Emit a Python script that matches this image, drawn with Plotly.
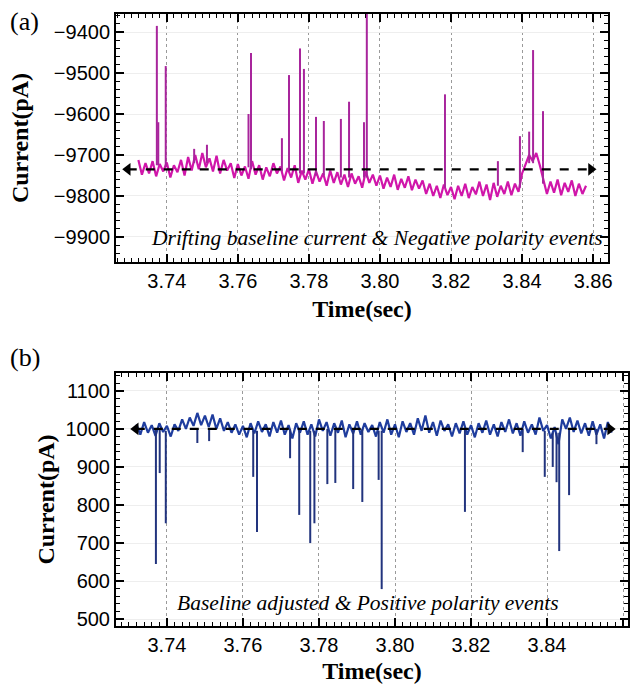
import plotly.graph_objects as go

# ---------------- data ----------------
t_start, t_step = 3.732, 0.001

# panel (a): drifting baseline samples (pA), one every 1 ms from 3.732 s
base_a = [-9712, -9748, -9720, -9745, -9715, -9752, -9722, -9740,
          -9718, -9755, -9725, -9742, -9712, -9750, -9705, -9738,
          -9700, -9735, -9695, -9730, -9708, -9740, -9702, -9745,
          -9712, -9738, -9720, -9756, -9722, -9750, -9728, -9758,
          -9715, -9748, -9725, -9760, -9730, -9752, -9720, -9745,
          -9728, -9762, -9732, -9755, -9725, -9768, -9738, -9760,
          -9735, -9770, -9740, -9765, -9745, -9775, -9738, -9768,
          -9742, -9772, -9748, -9778, -9745, -9770, -9752, -9780,
          -9740, -9768, -9748, -9775, -9750, -9782, -9755, -9778,
          -9748, -9785, -9758, -9780, -9752, -9786, -9760, -9782,
          -9762, -9795, -9770, -9800, -9775, -9805, -9772, -9798,
          -9778, -9808, -9775, -9800, -9770, -9805, -9778, -9796,
          -9765, -9800, -9772, -9810, -9768, -9802, -9775, -9795,
          -9765, -9798, -9770, -9790, -9745, -9720, -9700, -9715,
          -9695, -9725, -9760, -9795, -9765, -9792, -9760, -9798,
          -9768, -9790, -9762, -9800, -9770, -9795, -9775]

# panel (a): events (time s, local baseline pA, peak pA)
ev_a_t = [3.7372, 3.7376, 3.7397, 3.7477, 3.7513, 3.7630, 3.7637, 3.7724,
          3.7744, 3.7775, 3.7786, 3.7820, 3.7842, 3.7890, 3.7913, 3.7955,
          3.7963, 3.8183, 3.8332, 3.8394, 3.8420, 3.8431, 3.8459]
ev_a_base = [-9725, -9725, -9730, -9720, -9720, -9730, -9735, -9740,
             -9740, -9745, -9745, -9750, -9750, -9755, -9755, -9755,
             -9755, -9780, -9775, -9780, -9720, -9720, -9770]
ev_a_peak = [-9385, -9620, -9483, -9685, -9675, -9600, -9451, -9659,
             -9505, -9440, -9490, -9607, -9617, -9612, -9570, -9620,
             -9350, -9552, -9715, -9654, -9643, -9444, -9593]

# panel (b): adjusted baseline samples (pA)
base_b = [1012, 985, 1018, 990, 1010, 982, 1015, 992,
          1008, 980, 1012, 995, 1025, 1000, 1030, 1008,
          1042, 1010, 1035, 1005, 1038, 1000, 1028, 995,
          1018, 990, 1012, 985, 1008, 978, 1015, 988,
          1020, 992, 1012, 980, 1018, 990, 1022, 985,
          1010, 975, 1015, 990, 1020, 985, 1012, 980,
          1025, 995, 1018, 982, 1015, 990, 1022, 978,
          1012, 988, 1020, 985, 1015, 992, 1010, 980,
          1018, 990, 1025, 985, 1012, 978, 1020, 992,
          1015, 985, 1028, 995, 1035, 990, 1018, 982,
          1022, 995, 1012, 980, 1015, 988, 1020, 985,
          1010, 978, 1015, 990, 1022, 985, 1012, 980,
          1018, 992, 1025, 988, 1015, 982, 1020, 990,
          1012, 985, 1030, 995, 1010, 975, 1005, 960,
          1025, 1000, 1030, 992, 1022, 988, 1015, 982,
          1020, 985, 1012, 975, 1018, 990]

ev_b_t = [3.7371, 3.7381, 3.7397, 3.7480, 3.7511, 3.7627, 3.7637, 3.7724,
          3.7748, 3.7777, 3.7788, 3.7822, 3.7843, 3.7890, 3.7914, 3.7957,
          3.7965, 3.8184, 3.8336, 3.8394, 3.8415, 3.8425, 3.8432, 3.8458,
          3.8530]
ev_b_base = [1000, 1000, 995, 1000, 1000, 995, 995, 1000,
             1000, 995, 995, 1000, 1000, 1000, 1000, 995,
             995, 1000, 1000, 995, 990, 990, 990, 1000,
             1000]
ev_b_peak = [645, 884, 752, 963, 968, 874, 729, 923,
             774, 700, 752, 855, 858, 842, 808, 866,
             579, 782, 939, 874, 900, 860, 679, 826,
             960]

# reference (baseline) dashed lines
ref_a_t = [3.7290, 3.8594]
ref_a_y = [-9735, -9735]
ref_b_t = [3.7318, 3.8566]
ref_b_y = [1000, 1000]

xticks = [3.74, 3.76, 3.78, 3.80, 3.82, 3.84, 3.86]
yticks_a = [-9900, -9800, -9700, -9600, -9500, -9400]
yticks_b = [500, 600, 700, 800, 900, 1000, 1100]

# ---------------- helpers ----------------
def times(n):
    return [t_start + i * t_step for i in range(n)]

def spikes(ts, bs, ps):
    xs, ys = [], []
    for t, b, p in zip(ts, bs, ps):
        xs += [t, t, None]
        ys += [b, p, None]
    return xs, ys

MAG = "#d016aa"
MAG_D = "#a8259c"
BLU = "#1f3d9e"
BLU_D = "#22347e"

fig = go.Figure()

# panel a
fig.add_trace(go.Scatter(x=times(len(base_a)), y=base_a, mode="lines",
                         line=dict(color=MAG, width=2.2), xaxis="x", yaxis="y",
                         showlegend=False, hoverinfo="skip"))
sx, sy = spikes(ev_a_t, ev_a_base, ev_a_peak)
fig.add_trace(go.Scatter(x=sx, y=sy, mode="lines", line=dict(color=MAG_D, width=2),
                         xaxis="x", yaxis="y", showlegend=False, hoverinfo="skip"))
fig.add_trace(go.Scatter(x=ref_a_t, y=ref_a_y, mode="lines+markers",
                         line=dict(color="black", width=2.2, dash="dash"),
                         marker=dict(symbol=["triangle-left", "triangle-right"], size=11, color="black"),
                         xaxis="x", yaxis="y", showlegend=False, hoverinfo="skip"))

# panel b
fig.add_trace(go.Scatter(x=times(len(base_b)), y=base_b, mode="lines",
                         line=dict(color=BLU, width=2.2), xaxis="x2", yaxis="y2",
                         showlegend=False, hoverinfo="skip"))
sx, sy = spikes(ev_b_t, ev_b_base, ev_b_peak)
fig.add_trace(go.Scatter(x=sx, y=sy, mode="lines", line=dict(color=BLU_D, width=2),
                         xaxis="x2", yaxis="y2", showlegend=False, hoverinfo="skip"))
fig.add_trace(go.Scatter(x=ref_b_t, y=ref_b_y, mode="lines+markers",
                         line=dict(color="black", width=2.2, dash="dash"),
                         marker=dict(symbol=["triangle-left", "triangle-right"], size=11, color="black"),
                         xaxis="x2", yaxis="y2", showlegend=False, hoverinfo="skip"))

TICKFONT = dict(family="Liberation Sans, Arial, sans-serif", size=20, color="black")
TITLEFONT = dict(family="Liberation Serif, Times New Roman, serif", size=24, color="black")

def xax(domain, rng, anchor, standoff):
    return dict(domain=domain, range=rng, anchor=anchor,
                tickvals=xticks, tickformat=".2f", ticks="inside", ticklen=8, tickwidth=1.5,
                tickcolor="black", showline=True, linecolor="black", linewidth=2,
                mirror="allticks", showgrid=True, gridcolor="#9a9a9a", griddash="dot",
                gridwidth=1, zeroline=False, tickfont=TICKFONT, automargin=False,
                minor=dict(dtick=0.002, ticks="inside", ticklen=4, tickcolor="black",
                           tickwidth=1, showgrid=False),
                title=dict(text="<b>Time(sec)</b>", font=TITLEFONT, standoff=standoff))

def yax(domain, rng, anchor, tv, standoff):
    return dict(domain=domain, range=rng, anchor=anchor,
                tickvals=tv, tickformat="d", ticks="inside", ticklen=8, tickwidth=1.5,
                tickcolor="black", showline=True, linecolor="black", linewidth=2,
                mirror="allticks", showgrid=True, gridcolor="#eeeeee",
                gridwidth=1, zeroline=False, tickfont=TICKFONT, automargin=False,
                minor=dict(dtick=20, ticks="inside", ticklen=4, tickcolor="black",
                           tickwidth=1, showgrid=False),
                title=dict(text="<b>Current(pA)</b>", font=TITLEFONT, standoff=standoff))

PANEL_FONT = dict(family="Liberation Serif, serif", size=26, color="black")
NOTE_FONT = dict(family="Liberation Serif, serif", size=21.5, color="black")

fig.update_layout(
    width=637, height=688,
    margin=dict(l=116, r=9, t=14, b=62),
    paper_bgcolor="white", plot_bgcolor="white",
    xaxis=xax([0, 0.961], [3.7257, 3.8642], "y", 9),
    yaxis=yax([0.5948, 1.0], [-9961, -9356], "x", yticks_a, 18),
    xaxis2=xax([0, 1.0], [3.7266, 3.8613], "y2", 7),
    yaxis2=yax([0.0, 0.4134], [482, 1147], "x2", yticks_b, 4),
    annotations=[
        dict(text="(a)", xref="paper", yref="paper", x=-0.178, y=0.987,
             xanchor="center", yanchor="middle", showarrow=False, font=PANEL_FONT),
        dict(text="(b)", xref="paper", yref="paper", x=-0.178, y=0.4395,
             xanchor="center", yanchor="middle", showarrow=False, font=PANEL_FONT),
        dict(text="<i>Drifting baseline current &amp; Negative polarity events</i>",
             xref="x domain", yref="y domain", x=0.53, y=0.097, showarrow=False,
             xanchor="center", yanchor="middle", font=NOTE_FONT),
        dict(text="<i>Baseline adjusted &amp; Positive polarity events</i>",
             xref="x2 domain", yref="y2 domain", x=0.492, y=0.091, showarrow=False,
             xanchor="center", yanchor="middle", font=NOTE_FONT),
    ],
)

fig.write_html("out.html")
